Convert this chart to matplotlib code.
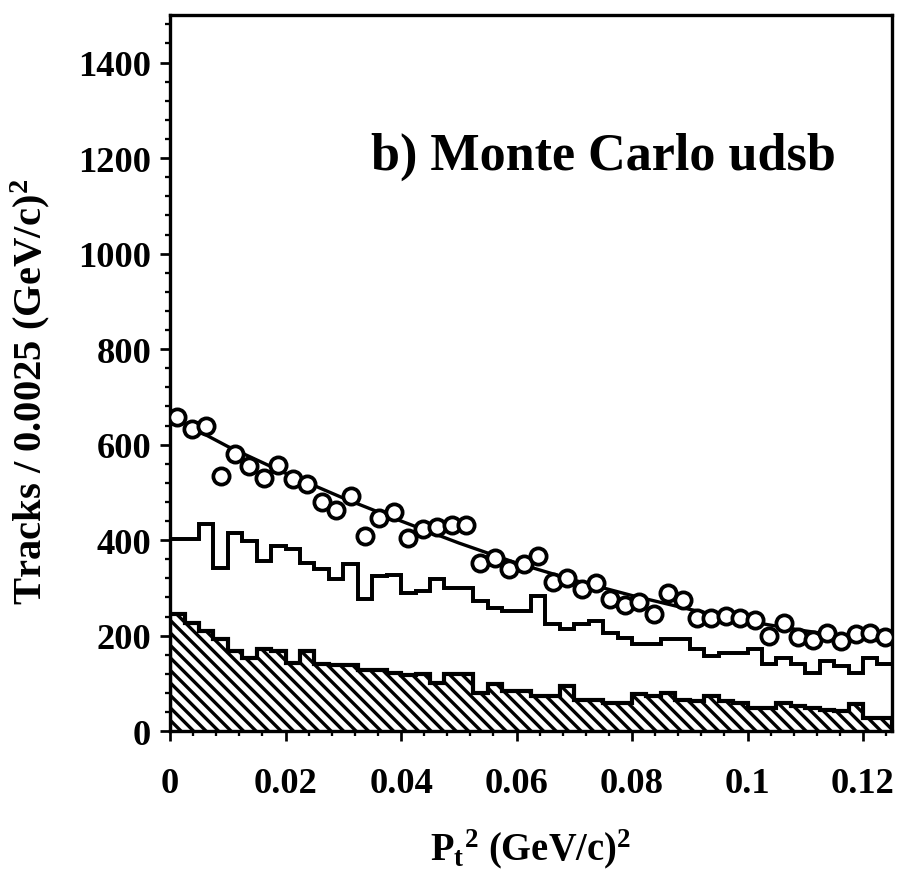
import matplotlib
matplotlib.use("Agg")
import matplotlib.pyplot as plt
import numpy as np
from matplotlib.ticker import MultipleLocator, FixedLocator

# ---- data ----
bin_width = 0.0025
n_bins = 50
bin_edges = np.arange(n_bins + 1) * bin_width

hatched_counts = [245, 227, 210, 192, 168, 154, 172, 168, 143, 168,
                  140, 139, 139, 129, 129, 122, 117, 119, 101, 119,
                  119, 80, 98, 84, 84, 73, 73, 94, 66, 66,
                  59, 59, 77, 73, 80, 66, 63, 73, 63, 59,
                  49, 49, 59, 52, 49, 45, 42, 56, 28, 28]

open_counts = [402, 402, 433, 342, 416, 398, 356, 388, 381, 353,
               339, 318, 349, 276, 325, 328, 290, 293, 318, 300,
               300, 273, 258, 252, 252, 283, 224, 213, 224, 231,
               206, 196, 182, 182, 192, 192, 171, 157, 164, 164,
               171, 140, 154, 140, 122, 147, 136, 122, 154, 140]

point_counts = [657, 632, 640, 535, 580, 556, 530, 558, 528, 518,
                479, 463, 493, 409, 447, 458, 405, 423, 428, 431,
                431, 353, 363, 339, 349, 367, 313, 321, 298, 311,
                276, 264, 271, 245, 289, 274, 238, 238, 241, 236,
                232, 199, 227, 197, 190, 206, 189, 203, 206, 197]

fit_x = [0.0, 0.01, 0.02, 0.03, 0.04, 0.05, 0.06, 0.07, 0.08, 0.09, 0.10, 0.11, 0.12, 0.125]
fit_y = [660, 596, 540, 488, 440, 394, 352, 316, 284, 255, 230, 210, 193, 186]

x_ticks = [0, 0.02, 0.04, 0.06, 0.08, 0.1, 0.12]
x_ticklabels = ["0", "0.02", "0.04", "0.06", "0.08", "0.1", "0.12"]
y_ticks = [0, 200, 400, 600, 800, 1000, 1200, 1400]

# ---- style ----
plt.rcParams['font.family'] = ['Liberation Serif', 'DejaVu Serif']
plt.rcParams['font.weight'] = 'bold'
plt.rcParams['mathtext.fontset'] = 'custom'
plt.rcParams['mathtext.rm'] = 'Liberation Serif:bold'
plt.rcParams['mathtext.it'] = 'Liberation Serif:bold'
plt.rcParams['mathtext.bf'] = 'Liberation Serif:bold'
plt.rcParams['hatch.linewidth'] = 1.6

DPI = 150
fig = plt.figure(figsize=(900 / DPI, 880 / DPI), dpi=DPI)
ax = fig.add_axes([0.189, 0.168, 0.802, 0.814])

centers = (np.array(bin_edges[:-1]) + np.array(bin_edges[1:])) / 2

# hatched histogram
ax.stairs(hatched_counts, bin_edges, fill=True, facecolor='white',
          edgecolor='black', hatch='\\' * 4, linewidth=0)
ax.stairs(hatched_counts, bin_edges, color='black', linewidth=2.0)

# open histogram
ax.stairs(open_counts, bin_edges, color='black', linewidth=1.9, baseline=None)

# fit line
ax.plot(fit_x, fit_y, color='black', linewidth=1.6, zorder=3)

# points
ax.plot(centers, point_counts, linestyle='none', marker='o', markersize=7.8,
        markerfacecolor='white', markeredgecolor='black', markeredgewidth=1.8, zorder=4)

ax.set_xlim(0, 0.125)
ax.set_ylim(0, 1500)

ax.xaxis.set_major_locator(FixedLocator(x_ticks))
ax.set_xticklabels(x_ticklabels)
ax.xaxis.set_minor_locator(MultipleLocator(0.004))
ax.yaxis.set_major_locator(FixedLocator(y_ticks))
ax.yaxis.set_minor_locator(MultipleLocator(40))

ax.tick_params(axis='both', which='major', direction='out', length=5, width=1.3,
               labelsize=17.5, top=False, right=False)
ax.tick_params(axis='both', which='minor', direction='out', length=2.5, width=1.1,
               top=False, right=False)
ax.tick_params(axis='x', which='major', pad=12)
ax.tick_params(axis='y', which='major', pad=4)
for lab in ax.get_xticklabels() + ax.get_yticklabels():
    lab.set_fontweight('bold')

for sp in ax.spines.values():
    sp.set_linewidth(1.6)

ax.set_xlabel(r"P$_{t}$$^{2}$ (GeV/c)$^{2}$", fontsize=18.5, fontweight='bold', labelpad=13)
ax.set_ylabel(r"Tracks / 0.0025 (GeV/c)$^{2}$", fontsize=19.5, fontweight='bold')
ax.yaxis.set_label_coords(-0.163, 0.475)

ax.text(0.60, 0.803, "b) Monte Carlo udsb", transform=ax.transAxes,
        ha='center', va='center', fontsize=25, fontweight='bold')

fig.savefig("out.png", dpi=DPI)
